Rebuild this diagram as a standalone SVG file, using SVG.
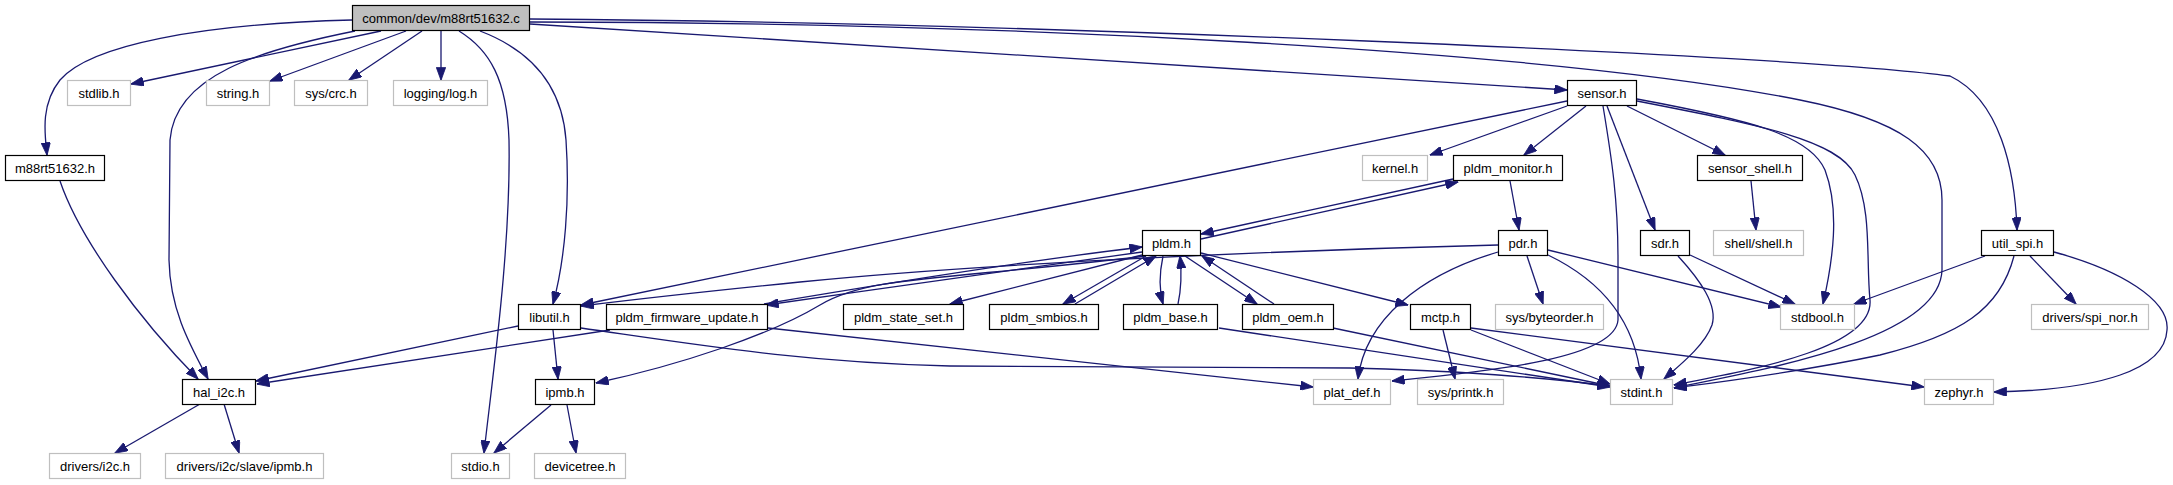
<svg xmlns="http://www.w3.org/2000/svg" width="2173" height="485" viewBox="0 0 2173 485">
<style>
.e path{fill:none;stroke:#191970;stroke-width:1.3;marker-end:url(#a)}
.n rect{fill:#fff;stroke:#000;stroke-width:1.2}
.g rect{fill:#fff;stroke:#bfbfbf;stroke-width:1.2}
.r rect{fill:#bfbfbf;stroke:#000;stroke-width:1.2}
text{font-family:"Liberation Sans",Arial,Helvetica,sans-serif;font-size:13px;text-anchor:middle;fill:#000}
</style>
<defs>
<marker id="a" viewBox="0 0 13 9.4" refX="12.6" refY="4.7" markerWidth="13" markerHeight="9.4" markerUnits="userSpaceOnUse" orient="auto">
<path d="M0,0 L13,4.7 L0,9.4 z" fill="#191970" stroke="#191970" stroke-width="0.8"/>
</marker>
</defs>
<rect width="2173" height="485" fill="#fff"/>
<g id="connectors" class="e">
<path d="M352,20 C200,24 90,45 60,80 C40,105 45,135 47,155"/>
<path d="M381,31 L131,84"/>
<path d="M355,31 C260,50 175,75 170,140 L169,260 C170,310 190,345 208,379"/>
<path d="M406,31 L270,81"/>
<path d="M422,31 L349,80"/>
<path d="M441,31 L441,80"/>
<path d="M459,31 C490,50 507,80 509,140 C511,250 492,380 484,453"/>
<path d="M480,31 C530,50 562,85 566,140 C570,200 565,260 553,304"/>
<path d="M530,24 L1567,90"/>
<path d="M530,19 C1000,22 1800,55 1950,76 C2000,100 2015,170 2017,230"/>
<path d="M530,22 C1000,22 1550,50 1800,100 C1900,120 1942,150 1942,200 L1942,270 C1940,340 1760,370 1674,388"/>
<path d="M60,181 C80,240 140,320 198,379"/>
<path d="M518,326 L256,381"/>
<path d="M610,330 L257,384"/>
<path d="M553,330 L558,379"/>
<path d="M581,328 C700,345 800,362 950,366 L1350,368 C1450,370 1550,378 1610,386"/>
<path d="M768,328 L1313,387"/>
<path d="M764,304 C900,281 1050,258 1142,247"/>
<path d="M1142,252 C1050,264 900,286 766,305"/>
<path d="M1498,245 C1300,250 1000,262 800,282 C700,292 630,300 581,306"/>
<path d="M1567,101 L581,305"/>
<path d="M1567,106 L1430,155"/>
<path d="M1586,106 L1524,155"/>
<path d="M1607,106 L1655,230"/>
<path d="M1627,106 L1725,155"/>
<path d="M1603,106 C1612,160 1618,200 1618,260 L1618,320 C1615,360 1480,372 1392,381"/>
<path d="M1637,99 C1750,120 1810,135 1825,170 C1840,210 1833,260 1823,304"/>
<path d="M1637,101 C1760,125 1838,140 1855,175 C1872,210 1866,260 1870,300 C1874,350 1740,372 1674,385"/>
<path d="M1510,181 L1519,230"/>
<path d="M1453,179 L1201,234"/>
<path d="M1201,239 L1458,182"/>
<path d="M1142,255 L950,304"/>
<path d="M1146,256 L1063,304"/>
<path d="M1075,304 L1156,256"/>
<path d="M1163,256 C1159,275 1159,290 1163,304"/>
<path d="M1178,304 C1181,290 1182,275 1180,256"/>
<path d="M1185,256 L1257,304"/>
<path d="M1274,304 L1202,256"/>
<path d="M1201,253 L1408,305"/>
<path d="M1146,256 C950,280 870,275 820,305 C770,335 680,365 596,383"/>
<path d="M1498,252 C1420,275 1365,320 1358,379"/>
<path d="M1527,256 L1543,304"/>
<path d="M1548,250 L1781,307"/>
<path d="M1548,255 C1600,280 1635,320 1641,379"/>
<path d="M1690,255 L1795,304"/>
<path d="M1678,256 C1700,280 1718,305 1712,325 C1705,345 1680,365 1664,379"/>
<path d="M1751,181 L1756,230"/>
<path d="M1985,256 L1854,304"/>
<path d="M2014,256 C2000,310 1960,335 1880,355 C1800,372 1720,382 1674,388"/>
<path d="M2030,256 L2076,304"/>
<path d="M2054,252 C2120,270 2170,300 2167,330 C2165,370 2100,390 1994,392"/>
<path d="M1471,328 L1924,387"/>
<path d="M1443,330 L1455,379"/>
<path d="M1471,330 L1610,384"/>
<path d="M1333,328 L1610,386"/>
<path d="M1219,328 L1610,387"/>
<path d="M551,405 L494,453"/>
<path d="M567,405 L576,453"/>
<path d="M200,404 L115,453"/>
<path d="M224,404 L239,453"/>
</g>
<g id="node-root" class="r"><rect x="352.5" y="5.5" width="177" height="25"/><text x="441" y="23">common/dev/m88rt51632.c</text></g>
<g id="node-stdlib" class="g"><rect x="67.5" y="80.5" width="63" height="25"/><text x="99" y="98">stdlib.h</text></g>
<g id="node-string" class="g"><rect x="206.5" y="80.5" width="63" height="25"/><text x="238" y="98">string.h</text></g>
<g id="node-syscrc" class="g"><rect x="294.5" y="80.5" width="73" height="25"/><text x="331" y="98">sys/crc.h</text></g>
<g id="node-log" class="g"><rect x="393.5" y="80.5" width="94" height="25"/><text x="440.5" y="98">logging/log.h</text></g>
<g id="node-sensor" class="n"><rect x="1567.5" y="80.5" width="69" height="25"/><text x="1602" y="98">sensor.h</text></g>
<g id="node-m88" class="n"><rect x="5.5" y="155.5" width="99" height="25"/><text x="55" y="173">m88rt51632.h</text></g>
<g id="node-kernel" class="g"><rect x="1362.5" y="155.5" width="65" height="25"/><text x="1395" y="173">kernel.h</text></g>
<g id="node-pldm_monitor" class="n"><rect x="1453.5" y="155.5" width="109" height="25"/><text x="1508" y="173">pldm_monitor.h</text></g>
<g id="node-sensor_shell" class="n"><rect x="1697.5" y="155.5" width="105" height="25"/><text x="1750" y="173">sensor_shell.h</text></g>
<g id="node-pldm" class="n"><rect x="1142.5" y="230.5" width="58" height="25"/><text x="1171.5" y="248">pldm.h</text></g>
<g id="node-pdr" class="n"><rect x="1498.5" y="230.5" width="49" height="25"/><text x="1523" y="248">pdr.h</text></g>
<g id="node-sdr" class="n"><rect x="1640.5" y="230.5" width="49" height="25"/><text x="1665" y="248">sdr.h</text></g>
<g id="node-shell" class="g"><rect x="1713.5" y="230.5" width="90" height="25"/><text x="1758.5" y="248">shell/shell.h</text></g>
<g id="node-util_spi" class="n"><rect x="1981.5" y="230.5" width="72" height="25"/><text x="2017.5" y="248">util_spi.h</text></g>
<g id="node-libutil" class="n"><rect x="518.5" y="304.5" width="62" height="25"/><text x="549.5" y="322">libutil.h</text></g>
<g id="node-pfu" class="n"><rect x="606.5" y="304.5" width="161" height="25"/><text x="687" y="322">pldm_firmware_update.h</text></g>
<g id="node-state_set" class="n"><rect x="843.5" y="304.5" width="120" height="25"/><text x="903.5" y="322">pldm_state_set.h</text></g>
<g id="node-smbios" class="n"><rect x="989.5" y="304.5" width="109" height="25"/><text x="1044" y="322">pldm_smbios.h</text></g>
<g id="node-base" class="n"><rect x="1123.5" y="304.5" width="94" height="25"/><text x="1170.5" y="322">pldm_base.h</text></g>
<g id="node-oem" class="n"><rect x="1242.5" y="304.5" width="91" height="25"/><text x="1288" y="322">pldm_oem.h</text></g>
<g id="node-mctp" class="n"><rect x="1410.5" y="304.5" width="60" height="25"/><text x="1440.5" y="322">mctp.h</text></g>
<g id="node-byteorder" class="g"><rect x="1495.5" y="304.5" width="108" height="25"/><text x="1549.5" y="322">sys/byteorder.h</text></g>
<g id="node-stdbool" class="g"><rect x="1780.5" y="304.5" width="74" height="25"/><text x="1817.5" y="322">stdbool.h</text></g>
<g id="node-spi_nor" class="g"><rect x="2031.5" y="304.5" width="117" height="25"/><text x="2090" y="322">drivers/spi_nor.h</text></g>
<g id="node-hal_i2c" class="n"><rect x="182.5" y="379.5" width="73" height="25"/><text x="219" y="397">hal_i2c.h</text></g>
<g id="node-ipmb" class="n"><rect x="535.5" y="379.5" width="59" height="25"/><text x="565" y="397">ipmb.h</text></g>
<g id="node-plat_def" class="g"><rect x="1313.5" y="379.5" width="77" height="25"/><text x="1352" y="397">plat_def.h</text></g>
<g id="node-printk" class="g"><rect x="1417.5" y="379.5" width="86" height="25"/><text x="1460.5" y="397">sys/printk.h</text></g>
<g id="node-stdint" class="g"><rect x="1610.5" y="379.5" width="62" height="25"/><text x="1641.5" y="397">stdint.h</text></g>
<g id="node-zephyr" class="g"><rect x="1924.5" y="379.5" width="69" height="25"/><text x="1959" y="397">zephyr.h</text></g>
<g id="node-drivers_i2c" class="g"><rect x="49.5" y="453.5" width="91" height="25"/><text x="95" y="471">drivers/i2c.h</text></g>
<g id="node-slave_ipmb" class="g"><rect x="165.5" y="453.5" width="158" height="25"/><text x="244.5" y="471">drivers/i2c/slave/ipmb.h</text></g>
<g id="node-stdio" class="g"><rect x="451.5" y="453.5" width="58" height="25"/><text x="480.5" y="471">stdio.h</text></g>
<g id="node-devicetree" class="g"><rect x="534.5" y="453.5" width="91" height="25"/><text x="580" y="471">devicetree.h</text></g>
</svg>
